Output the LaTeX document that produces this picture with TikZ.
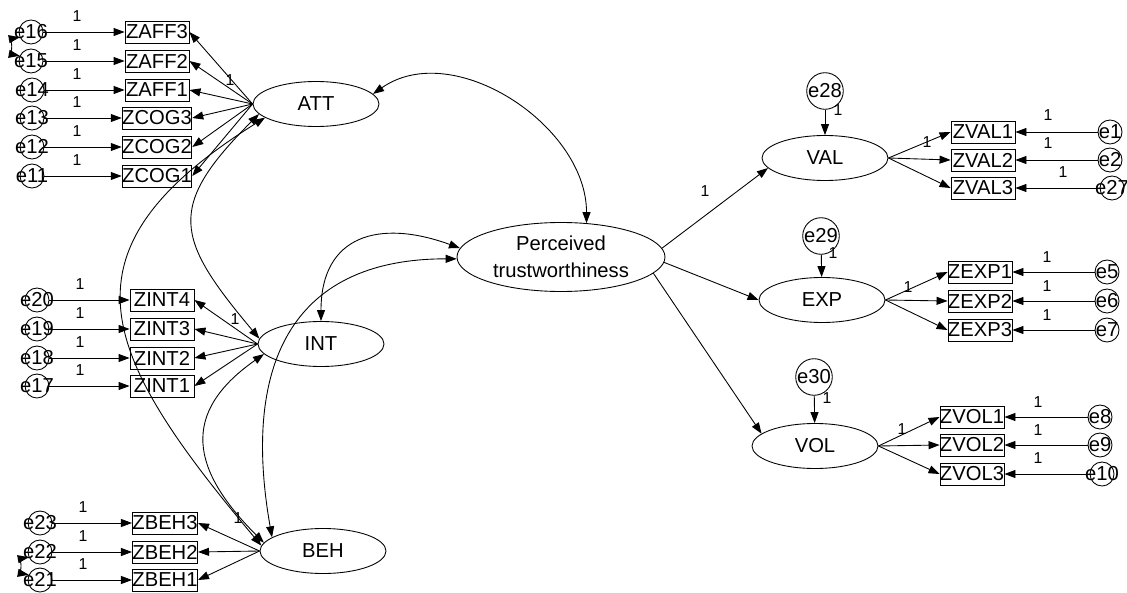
\documentclass[tikz,border=0pt]{standalone}
\usepackage{fontspec}
\setmainfont{Liberation Sans}
\usepackage{tikz}
\usetikzlibrary{arrows.meta,shapes.geometric}

\newcommand{\etxt}[1]{\makebox[0pt]{#1}}

\begin{document}
\begin{tikzpicture}[x=0.2mm, y=0.2mm, line width=0.5pt,
    font=\fontsize{11.5}{13.5}\selectfont, >={Triangle[length=2.2mm,width=1.6mm]}]
  \useasboundingbox (0,0) rectangle (1127,592);
  \tikzstyle{lat}=[ellipse, draw, minimum width=2.52cm, minimum height=0.9cm, inner sep=0pt]
  \tikzstyle{obs}=[rectangle, draw, minimum width=1.28cm, minimum height=0.44cm, inner sep=0pt]
  \tikzstyle{err}=[circle, draw, minimum size=0.48cm, inner sep=0pt]
  \tikzstyle{res}=[circle, draw, minimum size=0.68cm, inner sep=0pt]
  \tikzstyle{one}=[font=\fontsize{9}{10}\selectfont, inner sep=0pt]

  % latent variables
  \node[lat] (att) at (316,488) {ATT};
  \node[lat] (int) at (321,248) {INT};
  \node[lat] (beh) at (323,41) {BEH};
  \node[ellipse, draw, minimum width=4.16cm, minimum height=1.38cm, inner sep=0pt,
        align=center, font=\fontsize{11.5}{15.4}\selectfont] (pt) at (561,335)
        {Perceived\\trustworthiness};
  \node[lat] (val) at (825,434) {VAL};
  \node[lat] (exp) at (822,292) {EXP};
  \node[lat] (vol) at (815,146) {VOL};

  % ATT indicators
  \node[obs] (zaff3) at (157,560) {ZAFF3};
  \node[obs] (zaff2) at (157,531) {ZAFF2};
  \node[obs] (zaff1) at (157,502) {ZAFF1};
  \node[obs] (zcog3) at (157,474) {ZCOG3};
  \node[obs] (zcog2) at (157,445) {ZCOG2};
  \node[obs] (zcog1) at (157,416) {ZCOG1};
  \node[err] (e16) at (31,560) {\etxt{e16}};
  \node[err] (e15) at (31,531) {\etxt{e15}};
  \node[err] (e14) at (32,502) {\etxt{e14}};
  \node[err] (e13) at (32,474) {\etxt{e13}};
  \node[err] (e12) at (32,445) {\etxt{e12}};
  \node[err] (e11) at (32,416) {\etxt{e11}};

  % INT indicators
  \node[obs] (zint4) at (162,292) {ZINT4};
  \node[obs] (zint3) at (162,263) {ZINT3};
  \node[obs] (zint2) at (162,234) {ZINT2};
  \node[obs] (zint1) at (162,206) {ZINT1};
  \node[err] (e20) at (37,292) {\etxt{e20}};
  \node[err] (e19) at (37,263) {\etxt{e19}};
  \node[err] (e18) at (37,234) {\etxt{e18}};
  \node[err] (e17) at (37,206) {\etxt{e17}};

  % BEH indicators
  \node[obs] (zbeh3) at (165,69) {ZBEH3};
  \node[obs] (zbeh2) at (165,40) {ZBEH2};
  \node[obs] (zbeh1) at (165,12) {ZBEH1};
  \node[err] (e23) at (40,69) {\etxt{e23}};
  \node[err] (e22) at (40,40) {\etxt{e22}};
  \node[err] (e21) at (40,12) {\etxt{e21}};

  % right hand side
  \node[res] (e28) at (825,501) {e28};
  \node[res] (e29) at (821,356) {e29};
  \node[res] (e30) at (814,215) {e30};
  \node[obs] (zval1) at (983,460) {ZVAL1};
  \node[obs] (zval2) at (983,432) {ZVAL2};
  \node[obs] (zval3) at (983,404) {ZVAL3};
  \node[err] (e1) at (1110,460) {\etxt{e1}};
  \node[err] (e2) at (1110,432) {\etxt{e2}};
  \node[err] (e27) at (1112,404) {\etxt{e27}};
  \node[obs] (zexp1) at (980,320) {ZEXP1};
  \node[obs] (zexp2) at (980,291) {ZEXP2};
  \node[obs] (zexp3) at (980,262) {ZEXP3};
  \node[err] (e5) at (1107,320) {\etxt{e5}};
  \node[err] (e6) at (1107,291) {\etxt{e6}};
  \node[err] (e7) at (1107,262) {\etxt{e7}};
  \node[obs] (zvol1) at (972,175) {ZVOL1};
  \node[obs] (zvol2) at (972,147) {ZVOL2};
  \node[obs] (zvol3) at (972,118) {ZVOL3};
  \node[err] (e8) at (1100,175) {\etxt{e8}};
  \node[err] (e9) at (1100,147) {\etxt{e9}};
  \node[err] (e10) at (1102,118) {\etxt{e10}};

  % loadings and error paths
  \draw[->] (att.west) -- (zaff3.east);
  \draw[->] (att.west) -- (zaff2.east);
  \draw[->] (att.west) -- (zaff1.east);
  \draw[->] (att.west) -- (zcog3.east);
  \draw[->] (att.west) -- (zcog2.east);
  \draw[->] (att.west) -- (zcog1.east);
  \draw[->] (e16) -- (zaff3);
  \draw[->] (e15) -- (zaff2);
  \draw[->] (e14) -- (zaff1);
  \draw[->] (e13) -- (zcog3);
  \draw[->] (e12) -- (zcog2);
  \draw[->] (e11) -- (zcog1);
  \draw[->] (int.west) -- (zint4.east);
  \draw[->] (int.west) -- (zint3.east);
  \draw[->] (int.west) -- (zint2.east);
  \draw[->] (int.west) -- (zint1.east);
  \draw[->] (e20) -- (zint4);
  \draw[->] (e19) -- (zint3);
  \draw[->] (e18) -- (zint2);
  \draw[->] (e17) -- (zint1);
  \draw[->] (beh.west) -- (zbeh3.east);
  \draw[->] (beh.west) -- (zbeh2.east);
  \draw[->] (beh.west) -- (zbeh1.east);
  \draw[->] (e23) -- (zbeh3);
  \draw[->] (e22) -- (zbeh2);
  \draw[->] (e21) -- (zbeh1);
  \draw[->] (val.east) -- (zval1.west);
  \draw[->] (val.east) -- (zval2.west);
  \draw[->] (val.east) -- (zval3.west);
  \draw[->] (e1) -- (zval1);
  \draw[->] (e2) -- (zval2);
  \draw[->] (e27) -- (zval3);
  \draw[->] (exp.east) -- (zexp1.west);
  \draw[->] (exp.east) -- (zexp2.west);
  \draw[->] (exp.east) -- (zexp3.west);
  \draw[->] (e5) -- (zexp1);
  \draw[->] (e6) -- (zexp2);
  \draw[->] (e7) -- (zexp3);
  \draw[->] (vol.east) -- (zvol1.west);
  \draw[->] (vol.east) -- (zvol2.west);
  \draw[->] (vol.east) -- (zvol3.west);
  \draw[->] (e8) -- (zvol1);
  \draw[->] (e9) -- (zvol2);
  \draw[->] (e10) -- (zvol3);

  % structural paths
  \draw[->] (pt.5) -- (val.190);
  \draw[->] (pt.357) -- (exp.west);
  \draw[->] (pt.350) -- (vol.167);
  \draw[->] (e28) -- (val);
  \draw[->] (e29) -- (exp);
  \draw[->] (e30) -- (vol);

  % covariances
  \draw[<->] (att.10) to[out=35, in=90] (pt.53);
  \draw[<->] (int.north) to[out=90, in=160, looseness=1.4] (pt.175);
  \draw[<->] (beh.165) to[out=100, in=180, looseness=1.3] (pt.181);
  \draw[<->] (att.190) to[out=225, in=130, looseness=1.5] (int.175);
  \draw[<->] (att.195) to[out=212, in=130, looseness=1.5] (beh.175);
  \draw[<->] (int.190) to[out=215, in=135, looseness=1.4] (beh.172);
  \draw[<->] (e16.205) to[bend right=80] (e15.155);
  \draw[<->] (e22.205) to[bend right=80] (e21.155);

  % fixed parameters
  \node[one] (w16) at (77,576) {1};
  \node[one] (w15) at (77,547) {1};
  \node[one] (w14) at (77,518) {1};
  \node[one] (w13) at (77,490) {1};
  \node[one] (w12) at (77,461) {1};
  \node[one] (w11) at (77,432) {1};
  \node[one] (watt) at (230,512) {1};
  \node[one] (w20) at (80,308) {1};
  \node[one] (w19) at (80,279) {1};
  \node[one] (w18) at (80,250) {1};
  \node[one] (w17) at (80,222) {1};
  \node[one] (wint) at (235,273) {1};
  \node[one] (w23) at (83,85) {1};
  \node[one] (w22) at (83,56) {1};
  \node[one] (w21) at (83,28) {1};
  \node[one] (wbeh) at (238,74) {1};
  \node[one] (w1) at (1048,477) {1};
  \node[one] (w2) at (1048,449) {1};
  \node[one] (w27) at (1063,420) {1};
  \node[one] (wval) at (927,450) {1};
  \node[one] (w28) at (838,482) {1};
  \node[one] (w5) at (1047,335) {1};
  \node[one] (w6) at (1047,306) {1};
  \node[one] (w7) at (1047,277) {1};
  \node[one] (wexp) at (908,305) {1};
  \node[one] (w29) at (833,339) {1};
  \node[one] (w8) at (1038,190) {1};
  \node[one] (w9) at (1038,162) {1};
  \node[one] (w10) at (1038,134) {1};
  \node[one] (wvol) at (902,163) {1};
  \node[one] (w30) at (827,194) {1};
  \node[one] (wpt) at (705,401) {1};
\end{tikzpicture}
\end{document}
